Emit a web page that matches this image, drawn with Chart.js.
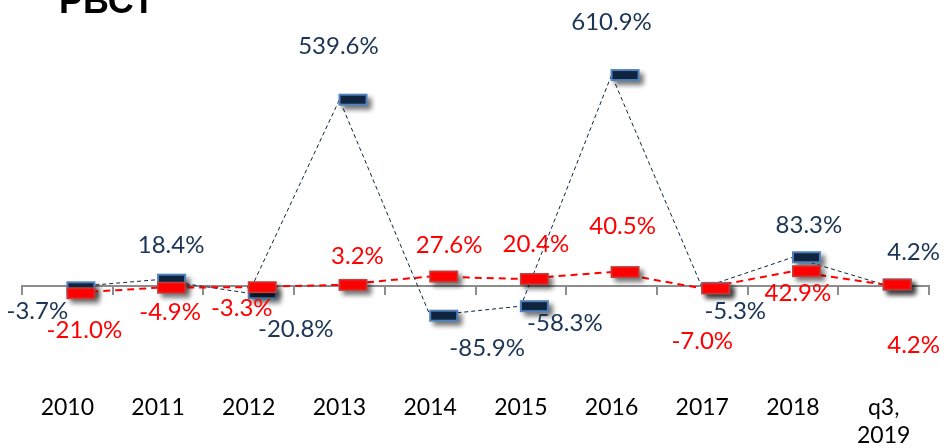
<!DOCTYPE html>
<html>
<head>
<meta charset="utf-8">
<script src="https://cdn.jsdelivr.net/npm/chart.js@4.4.1/dist/chart.umd.min.js"></script>
<style>
	html, body { margin: 0; padding: 0; background: #ffffff; }
	#wrap { width: 945px; height: 448px; position: relative; }
</style>
</head>
<body>
<div id="wrap"><canvas id="growthChart"></canvas></div>
<script>
// 데이터
const periods = ['2010', '2011', '2012', '2013', '2014', '2015', '2016', '2017', '2018', ['q3,', '2019']];
const navyValues = [-3.7, 18.4, -20.8, 539.6, -85.9, -58.3, 610.9, -5.3, 83.3, 4.2];
const redValues = [-21.0, -4.9, -3.3, 3.2, 27.6, 20.4, 40.5, -7.0, 42.9, 4.2];
const titleText = 'РВСТ';

// 라벨 위치 (점 기준 px 오프셋)
const navyLabelOffsets = [[-30, 24], [13, -34], [47, 36], [-1, -53], [57, 33], [44, 17], [0, -53], [33, 23], [16, -32], [30, -32]];
const redLabelOffsets = [[17, 37], [12, 25], [-7, 21], [18, -29], [19, -31], [15, -35], [11, -46], [0, 53], [5, 22], [30, 61]];

const FONT = 'Lato, "Open Sans", sans-serif';
const NAVY = '#0f243e';
const NAVY_TEXT = '#1b3556';
const RED = '#ff0000';

// 마커 (가로로 긴 사각형 + 그림자)
function makeMarker(fill, stroke, strokeW) {
	const c = document.createElement('canvas');
	c.width = 76; c.height = 34;
	const ctx = c.getContext('2d');
	const cx = 38, cy = 17;
	ctx.save();
	ctx.shadowColor = 'rgba(0, 0, 0, 0.55)';
	ctx.shadowBlur = 5;
	ctx.shadowOffsetX = 4;
	ctx.shadowOffsetY = 4;
	ctx.fillStyle = fill;
	ctx.fillRect(cx - 1, cy - 6, 29, 12);
	ctx.restore();
	ctx.lineWidth = strokeW;
	ctx.strokeStyle = stroke;
	ctx.strokeRect(cx - 1 + strokeW / 2, cy - 6 + strokeW / 2, 29 - strokeW, 12 - strokeW);
	return c;
}

// 값 라벨 플러그인
const valueLabels = {
	id: 'valueLabels',
	afterDatasetsDraw(chart) {
		const ctx = chart.ctx;
		ctx.save();
		ctx.font = '24px ' + FONT;
		ctx.textAlign = 'center';
		ctx.textBaseline = 'middle';
		chart.data.datasets.forEach((ds, i) => {
			const meta = chart.getDatasetMeta(i);
			meta.data.forEach((pt, j) => {
				const off = ds.labelOffsets[j];
				ctx.fillStyle = ds.labelColor;
				ctx.fillText(ds.data[j].toFixed(1) + '%', pt.x + off[0], pt.y + off[1]);
			});
		});
		ctx.restore();
	}
};

// 잘린 제목
const clippedTitle = {
	id: 'clippedTitle',
	afterDraw(chart) {
		const ctx = chart.ctx;
		ctx.save();
		ctx.font = 'bold 36px "Liberation Sans", Arial, sans-serif';
		ctx.fillStyle = '#000000';
		ctx.textBaseline = 'alphabetic';
		ctx.fillText(titleText, 59, 13);
		ctx.restore();
	}
};

new Chart(document.getElementById('growthChart'), {
	type: 'line',
	data: {
		labels: periods,
		datasets: [
			{
				label: 'red',
				data: redValues,
				labelOffsets: redLabelOffsets,
				labelColor: RED,
				borderColor: RED,
				borderWidth: 2,
				borderDash: [7, 5],
				pointStyle: makeMarker(RED, '#bf4441', 1.5),
				pointRadius: 14,
				order: 0,
				clip: false
			},
			{
				label: 'navy',
				data: navyValues,
				labelOffsets: navyLabelOffsets,
				labelColor: NAVY_TEXT,
				borderColor: NAVY,
				borderWidth: 1,
				borderDash: [4, 3],
				pointStyle: makeMarker(NAVY, '#4f81bd', 2),
				pointRadius: 14,
				order: 1,
				clip: false
			}
		]
	},
	options: {
		responsive: true,
		maintainAspectRatio: false,
		animation: false,
		events: [],
		layout: { padding: { left: 22, right: 14, top: 20, bottom: 0 } },
		plugins: {
			legend: { display: false },
			tooltip: { enabled: false }
		},
		scales: {
			x: {
				offset: true,
				afterFit: (scale) => { scale.height = 62; },
				grid: { display: false, drawTicks: false },
				border: { display: false },
				ticks: {
					color: '#000000',
					padding: 8,
					maxRotation: 0,
					autoSkip: false,
					font: { family: FONT, size: 23, lineHeight: '28px' }
				}
			},
			x0: {
				type: 'category',
				position: { y: 0 },
				offset: true,
				afterFit: (scale) => { scale.height = 0; },
				ticks: { display: false },
				grid: { display: true, offset: true, drawOnChartArea: false, drawTicks: true, tickLength: 8, color: '#8c8c8c', lineWidth: 2 },
				border: { display: true, color: '#8c8c8c', width: 2 }
			},
			y: {
				display: false,
				min: -289.6,
				max: 770.3
			}
		}
	},
	plugins: [valueLabels, clippedTitle]
});
</script>
</body>
</html>
